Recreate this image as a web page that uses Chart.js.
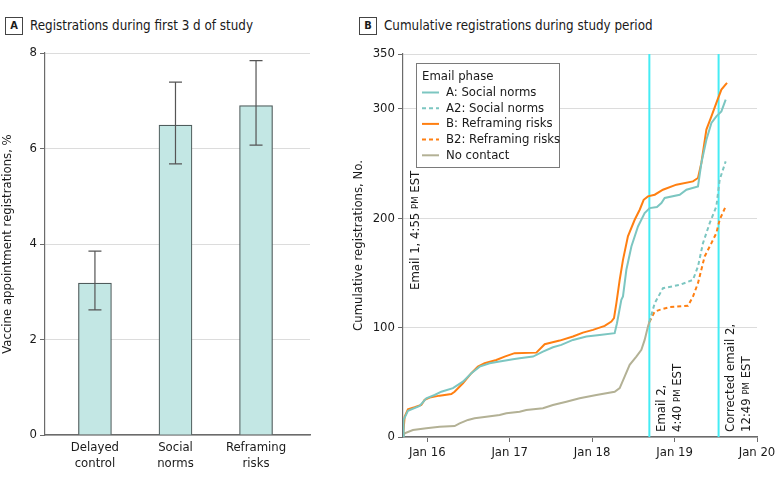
<!DOCTYPE html>
<html>
<head>
<meta charset="utf-8">
<script src="https://cdn.jsdelivr.net/npm/chart.js@4.4.1/dist/chart.umd.min.js"></script>
<style>
  body {
    margin: 0;
    background: #fff;
    width: 783px;
    height: 487px;
    position: relative;
    overflow: hidden;
    font-family: "DejaVu Sans Condensed", "Open Sans", sans-serif;
    color: #1a1a1a;
  }
  #chart-a { position: absolute; left: 0; top: 0; }
  #chart-b { position: absolute; left: 340px; top: 0; }
  .panel-title {
    position: absolute;
    top: 17px;
    font-size: 13.3px;
    line-height: 18px;
    white-space: nowrap;
  }
  .panel-tag {
    display: inline-block;
    width: 16px;
    height: 16px;
    border: 1px solid #444;
    text-align: center;
    font-weight: bold;
    font-size: 11px;
    line-height: 16px;
    margin-right: 7px;
    vertical-align: top;
  }
</style>
</head>
<body>
<div class="panel-title" style="left:5px"><span class="panel-tag">A</span>Registrations during first 3 d of study</div>
<div class="panel-title" style="left:359px"><span class="panel-tag">B</span>Cumulative registrations during study period</div>
<canvas id="chart-a" width="340" height="487"></canvas>
<canvas id="chart-b" width="443" height="487"></canvas>
<script>
// Panel A: registrations in first 3 days, % (with 95% CI)
const groupNames = [["Delayed", "control"], ["Social", "norms"], ["Reframing", "risks"]];
const groupPos = [1, 2, 3];
const regRate = [3.18, 6.49, 6.90];
const ciLow = [2.62, 5.68, 6.07];
const ciHigh = [3.85, 7.39, 7.84];
const rateTicks = [0, 2, 4, 6, 8];

// Panel B: cumulative registrations, x in days of January
const socialDays = [15.705, 15.712, 15.765, 15.907, 15.988, 16.089, 16.170, 16.311, 16.432, 16.534, 16.635, 16.756, 16.877, 17.039, 17.120, 17.282, 17.403, 17.524, 17.626, 17.767, 17.930, 18.091, 18.273, 18.301, 18.354, 18.374, 18.415, 18.476, 18.556, 18.637, 18.698, 18.786, 18.840, 18.880, 19.062, 19.144, 19.284, 19.325, 19.386, 19.447, 19.507, 19.568, 19.620];
const socialCount = [0, 15.6, 24, 28.4, 35.4, 38.4, 41.4, 44.6, 50.6, 58.3, 64.3, 67.4, 68.9, 71.1, 72, 73.5, 78, 82, 84.2, 88.7, 91.8, 93.3, 94.9, 104, 125.3, 128.4, 152.8, 174.1, 192.4, 204.7, 209.2, 210.2, 213.8, 218.4, 221.4, 226, 229, 250.4, 271.7, 287, 293, 297.6, 308.3];

const riskDays = [15.705, 15.725, 15.765, 15.846, 15.927, 15.967, 16.028, 16.149, 16.291, 16.331, 16.432, 16.534, 16.614, 16.695, 16.837, 16.938, 17.059, 17.323, 17.424, 17.606, 17.767, 17.888, 18.010, 18.152, 18.233, 18.265, 18.294, 18.334, 18.374, 18.434, 18.516, 18.577, 18.625, 18.677, 18.759, 18.859, 19.022, 19.223, 19.284, 19.325, 19.386, 19.447, 19.507, 19.568, 19.636];
const riskCount = [0, 18.6, 25.3, 27.2, 29.3, 33.9, 36, 37.8, 39.3, 41.4, 49.1, 58.3, 64.3, 67.4, 70.4, 73.5, 76.6, 77.1, 84.8, 88.1, 91.8, 95.4, 97.9, 101.6, 105.5, 108.6, 122.3, 143.6, 161.9, 183.3, 198.5, 207.7, 216.8, 219.9, 221.4, 226, 230.6, 233.6, 236.7, 250.4, 280.9, 293, 305.3, 317.5, 323.6];

const social2Days = [18.694, 18.759, 18.859, 19.062, 19.223, 19.284, 19.345, 19.426, 19.507, 19.547, 19.620];
const social2Count = [105, 122.3, 136, 139, 143.6, 155.8, 177.2, 195.5, 210.7, 235.1, 251.9];

const risk2Days = [18.694, 18.759, 18.819, 18.941, 19.163, 19.223, 19.284, 19.365, 19.447, 19.507, 19.547, 19.620];
const risk2Count = [105, 114.6, 116.2, 118.7, 119.9, 128.4, 140.6, 165, 177.2, 186.4, 198.5, 210.7];

const noContactDays = [15.705, 15.725, 15.825, 15.988, 16.149, 16.331, 16.392, 16.493, 16.574, 16.716, 16.877, 16.959, 17.120, 17.201, 17.403, 17.524, 17.687, 17.848, 18.051, 18.273, 18.334, 18.394, 18.455, 18.536, 18.597, 18.637, 18.677, 18.694];
const noContactCount = [0, 3.4, 6.4, 7.9, 9.4, 10, 12.5, 15.6, 17.1, 18.6, 20.1, 21.7, 23.1, 24.7, 26.3, 29.3, 32.3, 35.4, 38.4, 41.4, 44.6, 55.2, 65.9, 73.5, 79.6, 88.7, 100.9, 105];

const dayTicks = [16, 17, 18, 19, 20];
const countTicks = [0, 100, 200, 300, 350];

// email send times (day of January) and labels; [text, smallCaps] parts
const emails = [
  { day: 15.705, line: false, dx: [13], y0: 147, lines: [[["Email 1, 4:55 ", false], ["PM", true], [" EST", false]]] },
  { day: 18.694, line: true, dx: [12, 28], y0: 5, lines: [[["Email 2,", false]], [["4:40 ", false], ["PM", true], [" EST", false]]] },
  { day: 19.534, line: true, dx: [12, 28], y0: 5, lines: [[["Corrected email 2,", false]], [["12:49 ", false], ["PM", true], [" EST", false]]] }
];

const FONT = '"DejaVu Sans Condensed", "Open Sans", sans-serif';
const TEAL = "#7cc6c1";
const ORANGE = "#ff7f11";
const OLIVE = "#b3b195";
const CYAN = "#45ecf4";
const GRID = "#dcdcdc";
const AXIS = "#6b6b6b";

Chart.defaults.font.family = FONT;
Chart.defaults.font.size = 13;
Chart.defaults.color = "#1a1a1a";

const errorBars = {
  id: "errorBars",
  afterDatasetsDraw(chart) {
    const { ctx, scales } = chart;
    ctx.save();
    ctx.strokeStyle = "#555";
    ctx.lineWidth = 1.2;
    groupPos.forEach((p, i) => {
      const x = scales.x.getPixelForValue(p);
      const yl = scales.y.getPixelForValue(ciLow[i]);
      const yh = scales.y.getPixelForValue(ciHigh[i]);
      ctx.beginPath();
      ctx.moveTo(x, yl); ctx.lineTo(x, yh);
      ctx.moveTo(x - 6.5, yl); ctx.lineTo(x + 6.5, yl);
      ctx.moveTo(x - 6.5, yh); ctx.lineTo(x + 6.5, yh);
      ctx.stroke();
    });
    ctx.restore();
  }
};

new Chart(document.getElementById("chart-a"), {
  type: "bar",
  data: {
    datasets: [{
      data: groupPos.map((p, i) => ({ x: p, y: regRate[i] })),
      backgroundColor: "#c3e7e4",
      borderColor: "#4f5c5c",
      borderWidth: 1.2,
      barThickness: 33
    }]
  },
  options: {
    responsive: false,
    animation: false,
    devicePixelRatio: 1,
    layout: { padding: { top: 53, right: 30, left: 0, bottom: 0 } },
    plugins: { legend: { display: false }, tooltip: { enabled: false } },
    scales: {
      x: {
        type: "linear",
        offset: false,
        min: 0.38,
        max: 3.67,
        afterBuildTicks: (s) => { s.ticks = groupPos.map((v) => ({ value: v })); },
        afterFit: (s) => { s.height = 52; },
        ticks: { callback: (v) => groupNames[groupPos.indexOf(v)], padding: 5, maxRotation: 0 },
        grid: { display: false, drawTicks: false },
        border: { display: true, color: AXIS, width: 1.5 }
      },
      y: {
        min: 0,
        max: 8,
        afterBuildTicks: (s) => { s.ticks = rateTicks.map((v) => ({ value: v })); },
        afterFit: (s) => { s.width = 45; },
        ticks: { padding: 3 },
        grid: { color: GRID, tickLength: 5, tickColor: AXIS },
        border: { display: true, color: AXIS, width: 1.2 },
        title: { display: true, text: "Vaccine appointment registrations, %", font: { size: 13 }, padding: 0 }
      }
    }
  },
  plugins: [errorBars]
});

function drawParts(ctx, parts, x, y) {
  let cx = x;
  parts.forEach(([txt, small]) => {
    ctx.font = (small ? "9.5px " : "13px ") + FONT;
    ctx.fillText(txt, cx, y);
    cx += ctx.measureText(txt).width;
  });
}

const emailMarks = {
  id: "emailMarks",
  beforeDatasetsDraw(chart) {
    const { ctx, chartArea, scales } = chart;
    ctx.save();
    ctx.strokeStyle = CYAN;
    ctx.lineWidth = 2;
    emails.forEach((e) => {
      if (!e.line) return;
      const x = scales.x.getPixelForValue(e.day);
      ctx.beginPath();
      ctx.moveTo(x, chartArea.top);
      ctx.lineTo(x, chartArea.bottom);
      ctx.stroke();
    });
    ctx.fillStyle = "#1a1a1a";
    ctx.textBaseline = "middle";
    ctx.textAlign = "left";
    emails.forEach((e) => {
      const x = scales.x.getPixelForValue(e.day);
      e.lines.forEach((parts, j) => {
        ctx.save();
        ctx.translate(x + e.dx[j], chartArea.bottom - e.y0);
        ctx.rotate(-Math.PI / 2);
        drawParts(ctx, parts, 0, 0);
        ctx.restore();
      });
    });
    ctx.restore();
  }
};

const boxLegend = {
  id: "boxLegend",
  afterDraw(chart) {
    const { ctx, chartArea } = chart;
    const bx = chartArea.left + 13, by = chartArea.top + 9;
    ctx.save();
    ctx.fillStyle = "#fff";
    ctx.fillRect(bx, by, 143, 104);
    ctx.strokeStyle = "#7a7a7a";
    ctx.lineWidth = 1;
    ctx.strokeRect(bx + 0.5, by + 0.5, 143, 104);
    ctx.font = "13px " + FONT;
    ctx.fillStyle = "#1a1a1a";
    ctx.textBaseline = "middle";
    ctx.fillText("Email phase", bx + 6, by + 13.5);
    chart.data.datasets.forEach((ds, i) => {
      const y = by + 29.5 + i * 15.7;
      ctx.strokeStyle = ds.borderColor;
      ctx.lineWidth = 2;
      ctx.setLineDash(ds.borderDash || []);
      ctx.beginPath();
      ctx.moveTo(bx + 6, y);
      ctx.lineTo(bx + 23, y);
      ctx.stroke();
      ctx.setLineDash([]);
      ctx.fillText(ds.label, bx + 30, y);
    });
    ctx.restore();
  }
};

function series(label, days, counts, color, dash) {
  return {
    label,
    data: days.map((d, i) => ({ x: d, y: counts[i] })),
    borderColor: color,
    borderWidth: 2,
    borderDash: dash,
    pointRadius: 0,
    tension: 0,
    fill: false
  };
}

new Chart(document.getElementById("chart-b"), {
  type: "line",
  data: {
    datasets: [
      series("A: Social norms", socialDays, socialCount, TEAL, []),
      series("A2: Social norms", social2Days, social2Count, TEAL, [4, 3]),
      series("B: Reframing risks", riskDays, riskCount, ORANGE, []),
      series("B2: Reframing risks", risk2Days, risk2Count, ORANGE, [4, 3]),
      series("No contact", noContactDays, noContactCount, OLIVE, [])
    ]
  },
  options: {
    responsive: false,
    animation: false,
    devicePixelRatio: 1,
    layout: { padding: { top: 54, right: 26, left: 11, bottom: 0 } },
    plugins: { legend: { display: false }, tooltip: { enabled: false } },
    scales: {
      x: {
        type: "linear",
        min: 15.705,
        max: 20,
        afterBuildTicks: (s) => { s.ticks = dayTicks.map((v) => ({ value: v })); },
        afterFit: (s) => { s.height = 50; },
        ticks: { callback: (v) => "Jan " + v, padding: 3, maxRotation: 0 },
        grid: { drawOnChartArea: false, tickLength: 5, tickColor: AXIS },
        border: { display: true, color: AXIS, width: 1.5 }
      },
      y: {
        min: 0,
        max: 350,
        afterBuildTicks: (s) => { s.ticks = countTicks.map((v) => ({ value: v })); },
        afterFit: (s) => { s.width = 52; },
        ticks: { padding: 3 },
        grid: { color: GRID, tickLength: 5, tickColor: AXIS },
        border: { display: true, color: AXIS, width: 1.2 },
        title: { display: true, text: "Cumulative registrations, No.", font: { size: 13 }, padding: 0 }
      }
    }
  },
  plugins: [emailMarks, boxLegend]
});
</script>
</body>
</html>
